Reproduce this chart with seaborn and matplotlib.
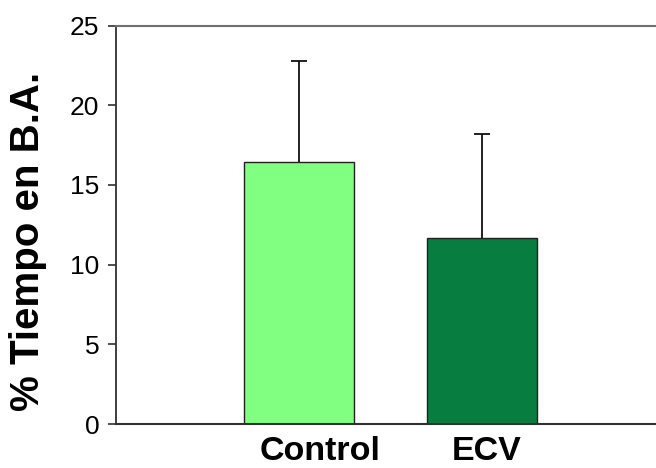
import matplotlib
matplotlib.use("Agg")
import matplotlib.pyplot as plt
import matplotlib.transforms as mtransforms
import seaborn as sns
import pandas as pd

categories = ["Control", "ECV"]
means = [16.46, 11.65]
errors = [6.34, 6.52]
colors = ["#80FF80", "#087D40"]

sns.set_theme(style="white")
plt.rcParams['font.family'] = ['Liberation Sans', 'DejaVu Sans']
plt.rcParams['text.color'] = 'black'
plt.rcParams['xtick.color'] = 'black'
plt.rcParams['ytick.color'] = 'black'
plt.rcParams['axes.labelcolor'] = 'black'

fig = plt.figure(figsize=(6.56, 4.68), dpi=100)
ax = fig.add_axes([116/656, 44/468, 1 - 116/656, (424-25.5)/468])

df = pd.DataFrame({"grupo": categories, "valor": means})
sns.barplot(data=df, x="grupo", y="valor", hue="grupo", palette=colors,
            width=0.6, edgecolor="#202020", linewidth=1.0, legend=False, ax=ax,
            errorbar=None, saturation=1)
eb = ax.errorbar(x=range(len(categories)), y=means, yerr=[[0]*len(errors), errors],
                 fmt="none", ecolor="#101010", elinewidth=1.3, capsize=6, capthick=1.3)
# hide the lower (zero-length) caps
caps = eb[1]
if len(caps) > 0:
    caps[0].set_visible(False)

ax.set_xlim(-1.0, 1.95)
ax.set_ylim(0, 25)
ax.set_yticks([0, 5, 10, 15, 20, 25])
ax.tick_params(axis="y", which="both", left=True, length=6, width=1.2,
               color="#303030", labelsize=19, pad=6)
ax.tick_params(axis="x", bottom=False, labelsize=24.5, pad=3)
shifts = [21, 5]
for lab, dx in zip(ax.get_xticklabels(), shifts):
    lab.set_fontweight("bold")
    lab.set_transform(lab.get_transform() +
                      mtransforms.ScaledTranslation(dx / 100, 0, fig.dpi_scale_trans))
ax.set_xlabel("")
ax.set_ylabel("% Tiempo en B.A.", fontsize=29, fontweight="bold")
ax.yaxis.set_label_coords((47 - 116) / (656 - 116), (424 - 241) / 398.5)

ax.spines["right"].set_visible(False)
ax.spines["left"].set_color("#303030")
ax.spines["left"].set_linewidth(1.3)
ax.spines["bottom"].set_color("#303030")
ax.spines["bottom"].set_linewidth(1.5)
ax.spines["top"].set_color("#707070")
ax.spines["top"].set_linewidth(1.5)

fig.savefig("out.png", dpi=100)
